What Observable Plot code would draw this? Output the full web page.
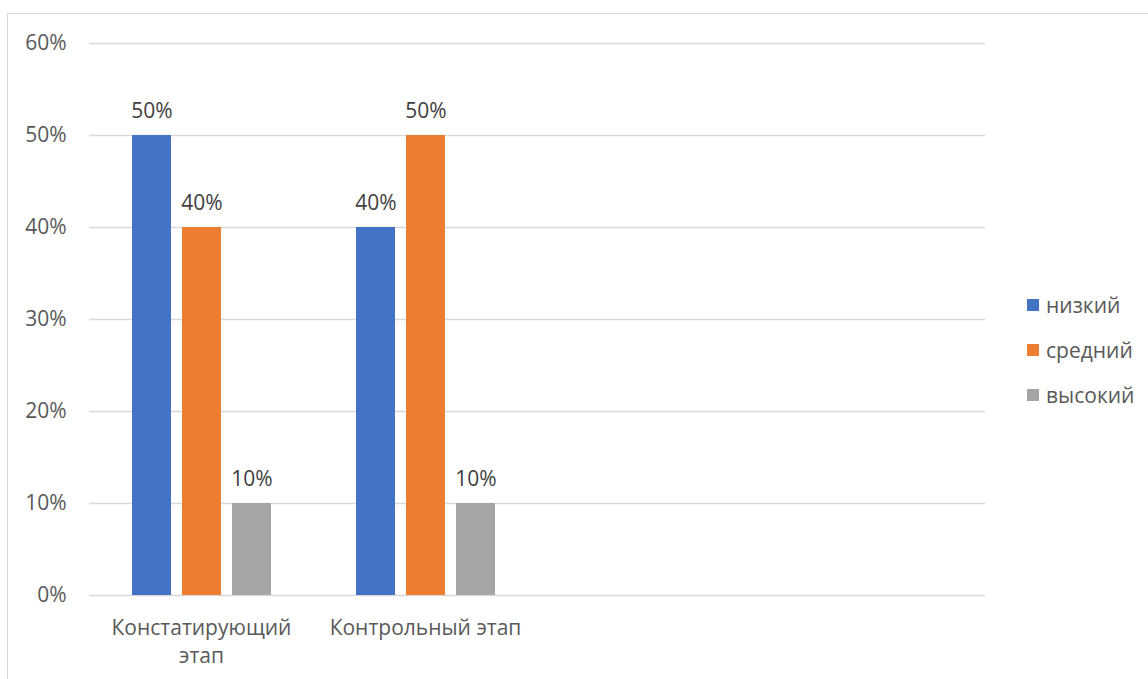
<!DOCTYPE html>
<html><head><meta charset="utf-8">
<script src="https://cdn.jsdelivr.net/npm/d3@7"></script>
<script src="https://cdn.jsdelivr.net/npm/@observablehq/plot@0.6"></script>
<style>
html,body{margin:0;padding:0;background:#fff;overflow:hidden;width:1148px;height:679px;position:relative;}
#frame{position:absolute;left:7px;top:13px;width:1300px;height:800px;border:1px solid #d9d9d9;box-sizing:border-box;}
#chart{position:absolute;left:0;top:0;}
#legend{position:absolute;left:1027px;top:290px;font-family:"Open Sans",sans-serif;font-size:21px;line-height:30px;color:#595959;}
.li{display:flex;align-items:center;white-space:nowrap;height:30px;margin-bottom:15px;}
.sw{width:12px;height:12px;margin-right:7px;}
</style></head>
<body>
<div id="frame"></div>
<div id="chart"></div>
<div id="legend"></div>
<script>
const categories = ["Констатирующий этап", "Контрольный этап", "slot3", "slot4"];
const categoryLabels = ["Констатирующий\nэтап", "Контрольный этап", "", ""];
const series = ["низкий", "средний", "высокий"];
const lowValues = [0.5, 0.4];
const midValues = [0.4, 0.5];
const highValues = [0.1, 0.1];
const colors = ["#4472c4", "#ed7d31", "#a5a5a5"];
const yTicks = [0, 0.1, 0.2, 0.3, 0.4, 0.5, 0.6];

const seriesValues = [lowValues, midValues, highValues];
const rows = [];
series.forEach((s, i) => seriesValues[i].forEach((v, j) => rows.push({cat: categories[j], series: s, value: v})));
const grid = [];
categories.forEach(c => yTicks.forEach(t => grid.push({cat: c, y: t})));
const pct = d3.format(".0%");
const FONT = "Open Sans";

const chart = Plot.plot({
  width: 1148, height: 679,
  marginLeft: 88, marginRight: 163, marginTop: 43, marginBottom: 84,
  style: {fontFamily: FONT, fontSize: "21px", background: "transparent"},
  fx: {domain: categories, padding: 0, label: null},
  x: {domain: series, paddingInner: 0.22, paddingOuter: 0.85, axis: null},
  y: {domain: [0, 0.6], axis: null},
  color: {domain: series, range: colors},
  marks: [
    Plot.ruleY(grid, {fx: "cat", y: "y", stroke: "#d9d9d9", strokeWidth: 1.3}),
    Plot.axisY({ticks: yTicks, tickFormat: pct, tickSize: 0, tickPadding: 23, fontSize: 21, fill: "#595959", label: null}),
    Plot.axisFx({anchor: "bottom", tickSize: 0, tickPadding: 19, fontSize: 21, fill: "#595959", lineHeight: 1.36, label: null,
      tickFormat: d => categoryLabels[categories.indexOf(d)]}),
    Plot.barY(rows, {fx: "cat", x: "series", y: "value", fill: "series"}),
    Plot.text(rows, {fx: "cat", x: "series", y: "value", text: d => pct(d.value), dy: -18, lineAnchor: "bottom", fill: "#404040", fontSize: 21})
  ]
});
document.getElementById("chart").appendChild(chart);

const legend = document.getElementById("legend");
series.forEach((s, i) => {
  const row = document.createElement("div");
  row.className = "li";
  const sw = document.createElement("div");
  sw.className = "sw";
  sw.style.background = colors[i];
  const t = document.createElement("span");
  t.textContent = s;
  row.appendChild(sw); row.appendChild(t);
  legend.appendChild(row);
});
</script>
</body></html>
